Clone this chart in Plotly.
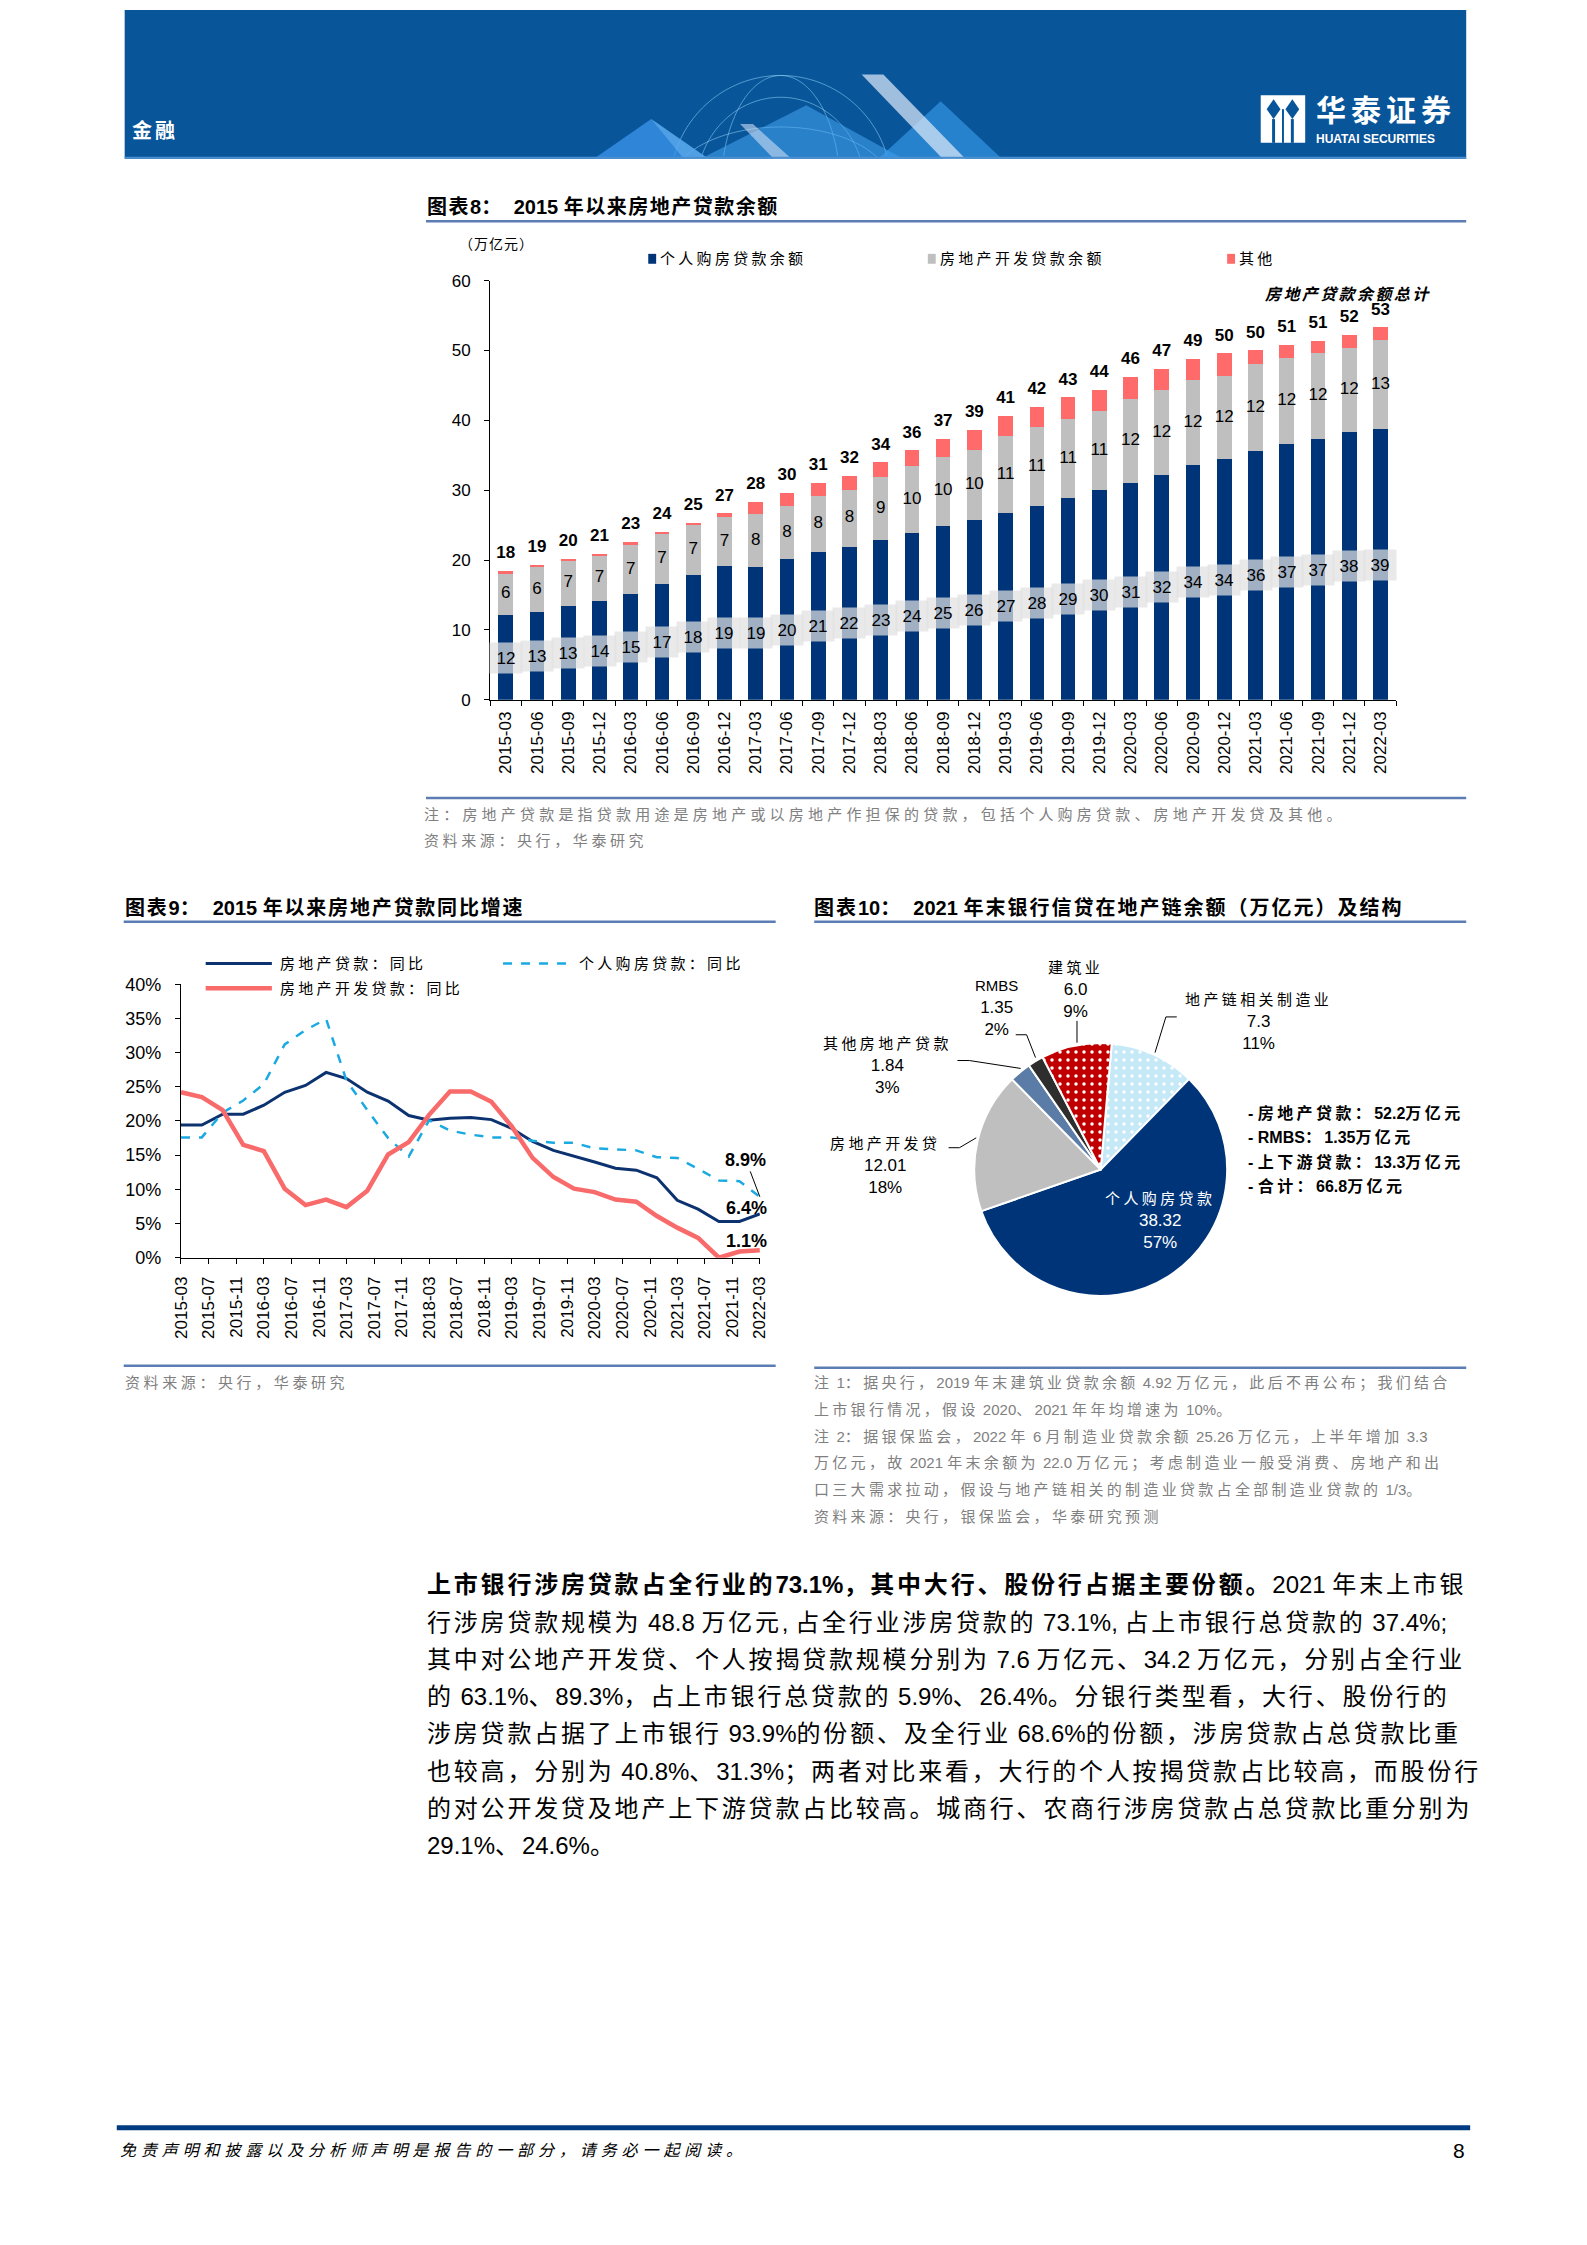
import math
import re
import plotly.graph_objects as go

# page size in the browser; body keeps its default 8px margin, figure kept a bit smaller than the window
PAGE_W, PAGE_H = 1587, 2245
OFF = 8
FW, FH = PAGE_W - 2 * OFF - 4, PAGE_H - 2 * OFF - 10

quarters = ["2015-03", "2015-06", "2015-09", "2015-12",
            "2016-03", "2016-06", "2016-09", "2016-12",
            "2017-03", "2017-06", "2017-09", "2017-12",
            "2018-03", "2018-06", "2018-09", "2018-12",
            "2019-03", "2019-06", "2019-09", "2019-12",
            "2020-03", "2020-06", "2020-09", "2020-12",
            "2021-03", "2021-06", "2021-09", "2021-12",
            "2022-03"]

# 图表8: 余额（万亿元）
mortgage_bal = [12.1, 12.6, 13.4, 14.1, 15.1, 16.6, 17.9, 19.1, 19.0, 20.1, 21.1, 21.9, 22.9, 23.9, 24.9,
                25.8, 26.8, 27.8, 28.9, 30.0, 31.0, 32.2, 33.6, 34.4, 35.6, 36.6, 37.3, 38.3, 38.7]
dev_bal = [6.1, 6.4, 6.6, 6.6, 7.1, 7.1, 7.1, 7.1, 7.6, 7.7, 8.1, 8.2, 9.0, 9.6, 9.9,
           10.0, 10.9, 11.2, 11.3, 11.3, 12.1, 12.1, 12.2, 12.0, 12.4, 12.3, 12.3, 12.1, 12.8]
other_bal = [0.2, 0.3, 0.2, 0.2, 0.4, 0.3, 0.3, 0.5, 1.7, 1.8, 1.8, 2.0, 2.1, 2.2, 2.6,
             2.8, 2.9, 2.9, 3.1, 3.1, 3.1, 3.1, 3.0, 3.2, 2.0, 1.9, 1.8, 1.8, 1.8]

# 图表9: 同比（%）
re_loan_yoy = [19.4, 19.4, 21.0, 21.0, 22.3, 24.2, 25.2, 27.1, 26.2, 24.2, 22.9, 20.8, 20.1, 20.4, 20.5,
               20.2, 18.9, 17.0, 15.7, 14.9, 14.0, 13.1, 12.8, 11.7, 8.4, 7.1, 5.3, 5.3, 6.4]
mortgage_yoy = [17.6, 17.6, 21.2, 23.0, 25.4, 31.2, 33.3, 34.9, 25.9, 21.6, 17.5, 14.8, 20.1, 18.6, 18.0,
                17.6, 17.6, 17.1, 16.8, 16.8, 16.0, 15.8, 15.7, 14.7, 14.6, 13.0, 11.3, 11.2, 8.9]
dev_yoy = [24.2, 23.5, 21.6, 16.5, 15.6, 10.1, 7.7, 8.5, 7.4, 9.8, 15.1, 16.9, 20.9, 24.3, 24.3,
           22.8, 19.2, 14.6, 11.8, 10.1, 9.6, 8.5, 8.2, 6.1, 4.4, 2.9, 0.0, 0.9, 1.1]

# 图表10: 2021年末地产链余额（万亿元）
pie_labels = ["地产链相关制造业", "个人购房贷款", "房地产开发贷", "其他房地产贷款", "RMBS", "建筑业"]
pie_values = [7.3, 38.32, 12.01, 1.84, 1.35, 6.0]
pie_value_text = ["7.3", "38.32", "12.01", "1.84", "1.35", "6.0"]
pie_summary = ["- 房地产贷款：52.2万亿元", "- RMBS：1.35万亿元", "- 上下游贷款：13.3万亿元", "- 合计：66.8万亿元"]

body_lines = [
    "<b>上市银行涉房贷款占全行业的73.1%，其中大行、股份行占据主要份额。</b>2021 年末上市银",
    "行涉房贷款规模为 48.8 万亿元, 占全行业涉房贷款的 73.1%, 占上市银行总贷款的 37.4%;",
    "其中对公地产开发贷、个人按揭贷款规模分别为 7.6 万亿元、34.2 万亿元，分别占全行业",
    "的 63.1%、89.3%，占上市银行总贷款的 5.9%、26.4%。分银行类型看，大行、股份行的",
    "涉房贷款占据了上市银行 93.9%的份额、及全行业 68.6%的份额，涉房贷款占总贷款比重",
    "也较高，分别为 40.8%、31.3%；两者对比来看，大行的个人按揭贷款占比较高，而股份行",
    "的对公开发贷及地产上下游贷款占比较高。城商行、农商行涉房贷款占总贷款比重分别为",
    "29.1%、24.6%。",
]

note10_lines = [
    "注 1：据央行，2019 年末建筑业贷款余额 4.92 万亿元，此后不再公布；我们结合",
    "上市银行情况，假设 2020、2021 年年均增速为 10%。",
    "注 2：据银保监会，2022 年 6 月制造业贷款余额 25.26 万亿元，上半年增加 3.3",
    "万亿元，故 2021 年末余额为 22.0 万亿元；考虑制造业一般受消费、房地产和出",
    "口三大需求拉动，假设与地产链相关的制造业贷款占全部制造业贷款的 1/3。",
    "资料来源：央行，银保监会，华泰研究预测",
]

FONT = "Liberation Sans, Arial, Noto Sans CJK SC, sans-serif"
NARROW = "Liberation Sans Narrow, Arial Narrow, Liberation Sans, Arial, Noto Sans CJK SC, sans-serif"
NAVY = "#003478"
GREY_BAR = "#bfbfbf"
RED_BAR = "#ff6b6b"
RULE = "#5b7db3"
NOTE = "#808080"
BAND = "#08559a"

CJK_RE = re.compile(r"([\u2e80-\u9fff\u3000-\u303f\uff00-\uffef]+)")


def px(x):
    return (x - OFF) / FW


def py(y):
    return 1 - (y - OFF) / FH


def cjk(s, sp):
    return CJK_RE.sub(lambda m: f"<span style='letter-spacing:{sp}px'>{m.group(1)}</span>", s)


def txt(x, y, s, size=15, color="#000000", anchor="left", bold=False, sp=None, family=FONT, italic=False):
    if sp is not None:
        s = cjk(s, sp)
    if bold:
        s = f"<b>{s}</b>"
    if italic:
        s = f"<i>{s}</i>"
    return dict(x=px(x), y=py(y), xref="paper", yref="paper", text=s, showarrow=False,
                xanchor=anchor, yanchor="middle", align=anchor,
                font=dict(size=size, color=color, family=family))


def hline(x0, x1, y, color=RULE, width=2.5, dash=None):
    return dict(type="line", xref="paper", yref="paper", x0=px(x0), x1=px(x1), y0=py(y), y1=py(y),
                line=dict(color=color, width=width, dash=dash))


def poly(pts, fill=None, color=None, width=1, closed=False):
    d = "M " + " L ".join(f"{px(x):.5f},{py(y):.5f}" for x, y in pts)
    if closed:
        d += " Z"
    shp = dict(type="path", xref="paper", yref="paper", path=d,
               line=dict(color=color or "rgba(0,0,0,0)", width=width if color else 0))
    if fill:
        shp["fillcolor"] = fill
    return shp


def rect(x0, y0, x1, y1, fill, layer="above"):
    return dict(type="rect", xref="paper", yref="paper", x0=px(x0), x1=px(x1), y0=py(y1), y1=py(y0),
                fillcolor=fill, line=dict(width=0), layer=layer)


def globe_arc(cx, cy, rx, ry, ymax=149):
    # decorative arc of the header globe, kept inside the blue band
    pts = []
    for k in range(0, 181):
        a = math.radians(180 + k)
        x, y = cx + rx * math.cos(a), cy + ry * math.sin(a)
        if y <= ymax:
            pts.append((x, y))
    return poly(pts, color="rgba(150,215,250,0.55)", width=1)


fig = go.Figure()

# ---------- 图表8 stacked bars ----------
fig.add_trace(go.Bar(x=quarters, y=mortgage_bal, name="个人购房贷款余额", marker=dict(color=NAVY, line=dict(width=0)),
                     xaxis="x", yaxis="y"))
fig.add_trace(go.Bar(x=quarters, y=dev_bal, name="房地产开发贷款余额", marker=dict(color=GREY_BAR, line=dict(width=0)),
                     xaxis="x", yaxis="y"))
fig.add_trace(go.Bar(x=quarters, y=other_bal, name="其他", marker=dict(color=RED_BAR, line=dict(width=0)),
                     xaxis="x", yaxis="y"))

totals = [a + b + c for a, b, c in zip(mortgage_bal, dev_bal, other_bal)]
fig.add_trace(go.Scatter(x=quarters, y=totals, mode="markers+text", text=[f"{t:.0f}" for t in totals],
                         marker=dict(size=12, color="rgba(0,0,0,0)"),
                         textposition="top center", textfont=dict(size=17, family=NARROW, weight="bold", color="black"),
                         xaxis="x", yaxis="y", hoverinfo="skip"))
fig.add_trace(go.Scatter(x=quarters, y=[m + d / 2 for m, d in zip(mortgage_bal, dev_bal)], mode="text",
                         text=[f"{d:.0f}" for d in dev_bal], textposition="middle center",
                         textfont=dict(size=17, family=NARROW, color="black"),
                         xaxis="x", yaxis="y", hoverinfo="skip"))

annotations = []
for q, m in zip(quarters, mortgage_bal):
    annotations.append(dict(x=q, y=m / 2, xref="x", yref="y", text=f"{m:.0f}", showarrow=False,
                            bgcolor="rgba(224,224,224,0.72)", width=30, height=28,
                            font=dict(size=17, family=NARROW, color="black")))

# ---------- 图表9 lines ----------
fig.add_trace(go.Scatter(x=quarters, y=re_loan_yoy, mode="lines", name="房地产贷款：同比",
                         line=dict(color="#0c3370", width=3), xaxis="x2", yaxis="y2"))
fig.add_trace(go.Scatter(x=quarters, y=mortgage_yoy, mode="lines", name="个人购房贷款：同比",
                         line=dict(color="#1ba9e1", width=2.5, dash="dash"), xaxis="x2", yaxis="y2"))
fig.add_trace(go.Scatter(x=quarters, y=dev_yoy, mode="lines", name="房地产开发贷款：同比",
                         line=dict(color="#f96a6a", width=4.5), xaxis="x2", yaxis="y2"))

annotations.append(dict(x=quarters[-1], y=mortgage_yoy[-1], xref="x2", yref="y2", text=f"<b>{mortgage_yoy[-1]:.1f}%</b>",
                        showarrow=True, arrowhead=0, arrowwidth=1, arrowcolor="black", ax=-14, ay=-37,
                        font=dict(size=18, family=NARROW, color="black")))
annotations.append(dict(x=quarters[-1], y=re_loan_yoy[-1], xref="x2", yref="y2", text=f"<b>{re_loan_yoy[-1]:.1f}%</b>",
                        showarrow=False, xshift=-13, yshift=6, font=dict(size=18, family=NARROW, color="black")))
annotations.append(dict(x=quarters[-1], y=dev_yoy[-1], xref="x2", yref="y2", text=f"<b>{dev_yoy[-1]:.1f}%</b>",
                        showarrow=False, xshift=-13, yshift=9, font=dict(size=18, family=NARROW, color="black")))

# ---------- 图表10 pie ----------
pie_colors = ["#c6e9f8", NAVY, "#bfbfbf", "#5b7ca6", "#2e2e2e", "#c00000"]
fig.add_trace(go.Pie(labels=pie_labels, values=pie_values, sort=False, direction="clockwise", rotation=5,
                     domain=dict(x=[px(977), px(1233)], y=[py(1298), py(1042)]),
                     marker=dict(colors=pie_colors, line=dict(color="white", width=2),
                                 pattern=dict(shape=[".", "", "", "", "", "."], bgcolor=pie_colors,
                                              fgcolor=["white"] * 6, size=8, solidity=0.15)),
                     textinfo="none", showlegend=False))

total_pie = sum(pie_values)
pie_pos = [(1265, 1021, "#000000"), (1165, 1222, "#ffffff"), (887, 1166, "#000000"),
           (889, 1066, "#000000"), (1000, 1007, "#000000"), (1079, 989, "#000000")]
for lab, vt, v, (x, y, c) in zip(pie_labels, pie_value_text, pie_values, pie_pos):
    s = f"<span style='font-size:15px'>{cjk(lab, 3.4)}</span><br>{vt}<br>{v / total_pie * 100:.0f}%"
    annotations.append(dict(x=px(x), y=py(y), xref="paper", yref="paper", text=s, showarrow=False,
                            xanchor="center", yanchor="middle", align="center",
                            font=dict(size=17, color=c, family=NARROW)))

for i, s in enumerate(pie_summary):
    annotations.append(txt(1252, 1113 + i * 24.7, s, size=16, bold=True, sp=3.4))

# ---------- page texts ----------
annotations += [
    txt(122, 122, "金融", size=20, color="white", bold=True, sp=3),
    txt(1321, 101, "华泰证券", size=30, color="white", bold=True, sp=5),
    txt(1321, 130, "HUATAI SECURITIES", size=12, color="white", bold=True),
    txt(421, 198, "图表8：  2015 年以来房地产贷款余额", size=20, bold=True, sp=1.5),
    txt(453, 236, "（万亿元）", size=14, sp=1),
    txt(657, 251, "个人购房贷款余额", size=15, sp=3.3),
    txt(940, 251, "房地产开发贷款余额", size=15, sp=3.3),
    txt(1243, 251, "其他", size=15, sp=3.3),
    txt(1355, 287, "房地产贷款余额总计", size=16, bold=True, sp=2.4, anchor="center", italic=True),
    txt(418, 812, "注：房地产贷款是指贷款用途是房地产或以房地产作担保的贷款，包括个人购房贷款、房地产开发贷及其他。",
        size=15, color=NOTE, sp=4.2),
    txt(418, 838, "资料来源：央行，华泰研究", size=15, color=NOTE, sp=3.6),
    txt(115, 906, "图表9：  2015 年以来房地产贷款同比增速", size=20, bold=True, sp=1.8),
    txt(813, 906, "图表10：  2021 年末银行信贷在地产链余额（万亿元）及结构", size=20, bold=True, sp=2),
    txt(272, 962, "房地产贷款：同比", size=15, sp=3.3),
    txt(575, 962, "个人购房贷款：同比", size=15, sp=3.3),
    txt(272, 987, "房地产开发贷款：同比", size=15, sp=3.3),
    txt(115, 1385, "资料来源：央行，华泰研究", size=15, color=NOTE, sp=3.6),
    txt(110, 2160, "免责声明和披露以及分析师声明是报告的一部分，请务必一起阅读。", size=16, sp=4.9, italic=True),
    txt(1476, 2160, "8", size=21, anchor="right"),
]
for i, s in enumerate(note10_lines):
    annotations.append(txt(813, 1385 + i * 27, s, size=15, color=NOTE, sp=3.3))
for i, s in enumerate(body_lines):
    annotations.append(txt(421, 1589 + i * 37.6, s, size=24, sp=2.8))

# ---------- shapes: header, rules, legend marks, leader lines ----------
shapes = [
    rect(117, 0, 1475, 150, BAND, layer="below"),
    globe_arc(781, 178, 112, 112),
    globe_arc(781, 178, 112, 60),
    globe_arc(781, 178, 60, 112),
    globe_arc(781, 178, 85, 90),
    poly([(592, 150), (650, 110), (708, 150)], fill="rgba(60,150,235,0.75)", closed=True),
    poly([(650, 110), (708, 150), (683, 150)], fill="rgba(120,190,245,0.45)", closed=True),
    poly([(700, 150), (807, 96), (905, 150)], fill="rgba(70,165,240,0.55)", closed=True),
    poly([(740, 115), (753, 115), (792, 150), (774, 150)], fill="rgba(205,220,245,0.6)", closed=True),
    poly([(880, 150), (943, 92), (1005, 150)], fill="rgba(60,160,240,0.6)", closed=True),
    poly([(863, 65), (885, 65), (968, 150), (945, 150)], fill="rgba(225,235,250,0.7)", closed=True),
    hline(117, 1475, 149, color="#4b8fd0", width=2),
    rect(1267, 86, 1312, 134, "white"),
    poly([(1280, 90), (1287, 100), (1280, 110), (1273, 100)], fill=BAND, closed=True),
    poly([(1299, 90), (1306, 100), (1299, 110), (1292, 100)], fill=BAND, closed=True),
    rect(1278.5, 110, 1281.5, 134, BAND),
    rect(1288.5, 100, 1290.5, 134, BAND),
    rect(1297.5, 110, 1300.5, 134, BAND),
    hline(422, 1475, 213),
    hline(422, 1475, 795),
    hline(116, 776, 920),
    hline(815, 1475, 920),
    hline(116, 776, 1368),
    hline(815, 1475, 1370),
    hline(109, 1479, 2137, color="#003a80", width=5),
    rect(647, 246, 655, 256, NAVY),
    rect(930, 246, 938, 256, GREY_BAR),
    rect(1233, 246, 1241, 256, RED_BAR),
    hline(199, 266, 962, color="#0c3370", width=3),
    hline(500, 565, 962, color="#1ba9e1", width=2.5, dash="dash"),
    hline(199, 266, 987, color="#f96a6a", width=4.5),
    poly([(1182, 1016), (1171, 1016), (1160, 1052)], color="black", width=1),
    poly([(1081, 1020), (1081, 1042)], color="black", width=1),
    poly([(1019, 1034), (1030, 1034), (1039, 1057)], color="black", width=1),
    poly([(960, 1060), (972, 1060), (1024, 1068)], color="black", width=1),
    poly([(951, 1148), (962, 1148), (979, 1138)], color="black", width=1),
]

axis_common = dict(showline=True, linecolor="black", linewidth=1, ticks="outside", ticklen=5, tickcolor="black",
                   showgrid=False, zeroline=False)

fig.update_layout(
    width=FW, height=FH, margin=dict(l=0, r=0, t=0, b=0),
    paper_bgcolor="white", plot_bgcolor="rgba(0,0,0,0)",
    barmode="stack", bargap=0.53, showlegend=False,
    font=dict(family=FONT, color="black"),
    xaxis=dict(domain=[px(487), px(1404)], anchor="y", type="category", range=[-0.5, 28.5],
               tickson="boundaries", tickangle=-90, ticklabelstandoff=4,
               tickfont=dict(size=17, family=FONT), **axis_common),
    yaxis=dict(domain=[py(696), py(273)], anchor="x", range=[0, 60], dtick=10,
               ticklabelstandoff=10, tickfont=dict(size=17, family=NARROW), **axis_common),
    xaxis2=dict(domain=[px(174), px(760)], anchor="y2", type="date", range=["2015-03-01", "2022-03-01"],
                tick0="2015-03-01", dtick="M4", tickformat="%Y-%m", tickangle=-90, ticklabelstandoff=6,
                tickfont=dict(size=17, family=FONT), **axis_common),
    yaxis2=dict(domain=[py(1259), py(983)], anchor="x2", range=[0, 40], dtick=5, ticksuffix="%",
                ticklabelstandoff=10, tickfont=dict(size=18, family=NARROW), **axis_common),
    annotations=annotations,
    shapes=shapes,
)

fig.write_html("out.html", config={"displayModeBar": False})
